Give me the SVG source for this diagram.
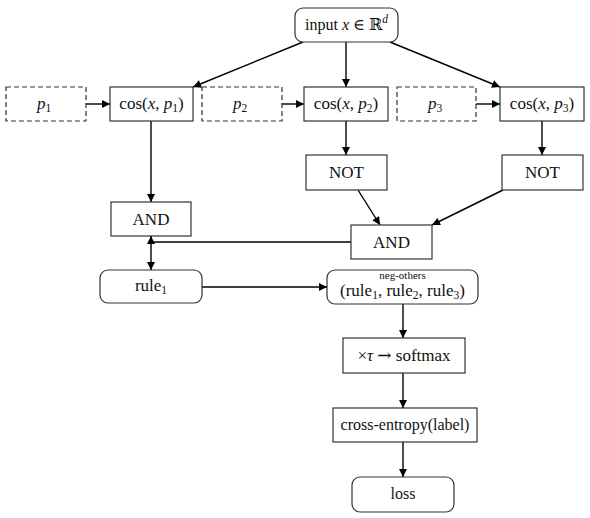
<svg xmlns="http://www.w3.org/2000/svg" width="590" height="518" viewBox="0 0 590 518">
<defs>
<marker id="ah" viewBox="0 0 10 10" refX="10" refY="5" markerWidth="9" markerHeight="8" markerUnits="userSpaceOnUse" orient="auto">
<path d="M0,0 L10,5 L0,10 z" fill="#000"/>
</marker>
<style>
.box{fill:#fff;stroke:#333;stroke-width:1.2}
.dash{fill:#fff;stroke:#333;stroke-width:1.2;stroke-dasharray:5 3}
.t{font-family:"Liberation Serif","DejaVu Serif",serif;font-size:16px;fill:#111;text-anchor:middle}
.m{font-size:17px}
.i{font-style:italic}
.sub{font-size:11.5px}
.small{font-family:"Liberation Serif","DejaVu Serif",serif;font-size:11px;fill:#111;text-anchor:middle}
.c{fill:none;stroke:#000;stroke-width:1.4}
</style>
</defs>
<g id="connectors">
<line class="c" x1="303" y1="42" x2="193" y2="87" marker-end="url(#ah)"/>
<line class="c" x1="346" y1="42" x2="346" y2="87" marker-end="url(#ah)"/>
<line class="c" x1="390" y1="42" x2="500" y2="87" marker-end="url(#ah)"/>
<line class="c" x1="86" y1="104" x2="110" y2="104" marker-end="url(#ah)"/>
<line class="c" x1="282" y1="104" x2="304" y2="104" marker-end="url(#ah)"/>
<line class="c" x1="476" y1="104" x2="500" y2="104" marker-end="url(#ah)"/>
<line class="c" x1="151" y1="121" x2="151" y2="202" marker-end="url(#ah)"/>
<line class="c" x1="346" y1="121" x2="346" y2="155" marker-end="url(#ah)"/>
<line class="c" x1="542" y1="121" x2="542" y2="155" marker-end="url(#ah)"/>
<line class="c" x1="358" y1="190" x2="380" y2="225" marker-end="url(#ah)"/>
<line class="c" x1="503" y1="190" x2="432" y2="225" marker-end="url(#ah)"/>
<polyline class="c" points="351,242 151,242 151,236" marker-end="url(#ah)"/>
<line class="c" x1="151" y1="236" x2="151" y2="270" marker-end="url(#ah)"/>
<line class="c" x1="202" y1="287" x2="327" y2="287" marker-end="url(#ah)"/>
<line class="c" x1="403" y1="304" x2="403" y2="338" marker-end="url(#ah)"/>
<line class="c" x1="403" y1="373" x2="403" y2="408" marker-end="url(#ah)"/>
<line class="c" x1="403" y1="442" x2="403" y2="477" marker-end="url(#ah)"/>
</g>
<g id="input">
<rect class="box" x="295" y="8" width="103" height="34" rx="8"/>
<text class="t" x="346.5" y="30">input <tspan class="i">x</tspan> ∈ <tspan font-family="DejaVu Serif">ℝ</tspan><tspan class="i sub" dy="-7">d</tspan></text>
</g>
<g id="p1">
<rect class="dash" x="6" y="87" width="80" height="34"/>
<text class="t m" x="44" y="109"><tspan class="i">p</tspan><tspan class="sub" dy="3">1</tspan></text>
</g>
<g id="cos1">
<rect class="box" x="110" y="87" width="83" height="34"/>
<text class="t m" x="151.5" y="109">cos(<tspan class="i">x</tspan>, <tspan class="i">p</tspan><tspan class="sub" dy="3">1</tspan><tspan dy="-3">)</tspan></text>
</g>
<g id="p2">
<rect class="dash" x="202" y="87" width="80" height="34"/>
<text class="t m" x="240" y="109"><tspan class="i">p</tspan><tspan class="sub" dy="3">2</tspan></text>
</g>
<g id="cos2">
<rect class="box" x="304" y="87" width="84" height="34"/>
<text class="t m" x="346" y="109">cos(<tspan class="i">x</tspan>, <tspan class="i">p</tspan><tspan class="sub" dy="3">2</tspan><tspan dy="-3">)</tspan></text>
</g>
<g id="p3">
<rect class="dash" x="397" y="87" width="79" height="34"/>
<text class="t m" x="435" y="109"><tspan class="i">p</tspan><tspan class="sub" dy="3">3</tspan></text>
</g>
<g id="cos3">
<rect class="box" x="500" y="87" width="84" height="34"/>
<text class="t m" x="542" y="109">cos(<tspan class="i">x</tspan>, <tspan class="i">p</tspan><tspan class="sub" dy="3">3</tspan><tspan dy="-3">)</tspan></text>
</g>
<g id="and1">
<rect class="box" x="111" y="202" width="80" height="34"/>
<text class="t m" x="151" y="225">AND</text>
</g>
<g id="not1">
<rect class="box" x="306" y="155" width="81" height="35"/>
<text class="t m" x="346.5" y="178">NOT</text>
</g>
<g id="not2">
<rect class="box" x="502" y="155" width="81" height="35"/>
<text class="t m" x="542.5" y="178">NOT</text>
</g>
<g id="and2">
<rect class="box" x="351" y="225" width="81" height="34"/>
<text class="t m" x="391.5" y="248">AND</text>
</g>
<g id="rule1">
<rect class="box" x="100" y="270" width="102" height="33" rx="8"/>
<text class="t m" x="151" y="291">rule<tspan class="sub" dy="3">1</tspan></text>
</g>
<g id="negothers">
<rect class="box" x="327" y="270" width="151" height="34" rx="8"/>
<text class="small" x="402.5" y="279">neg-others</text>
<text class="t m" x="402.5" y="296">(rule<tspan class="sub" dy="3">1</tspan><tspan dy="-3">, rule</tspan><tspan class="sub" dy="3">2</tspan><tspan dy="-3">, rule</tspan><tspan class="sub" dy="3">3</tspan><tspan dy="-3">)</tspan></text>
</g>
<g id="softmax">
<rect class="box" x="343" y="338" width="122" height="35"/>
<text class="t m" x="404" y="361">×<tspan class="i">τ</tspan> <tspan font-family="DejaVu Serif">→</tspan> softmax</text>
</g>
<g id="crossentropy">
<rect class="box" x="333" y="408" width="144" height="34"/>
<text class="t" x="405" y="430">cross-entropy(label)</text>
</g>
<g id="loss">
<rect class="box" x="352" y="477" width="102" height="35" rx="8"/>
<text class="t" x="403" y="499">loss</text>
</g>
</svg>
